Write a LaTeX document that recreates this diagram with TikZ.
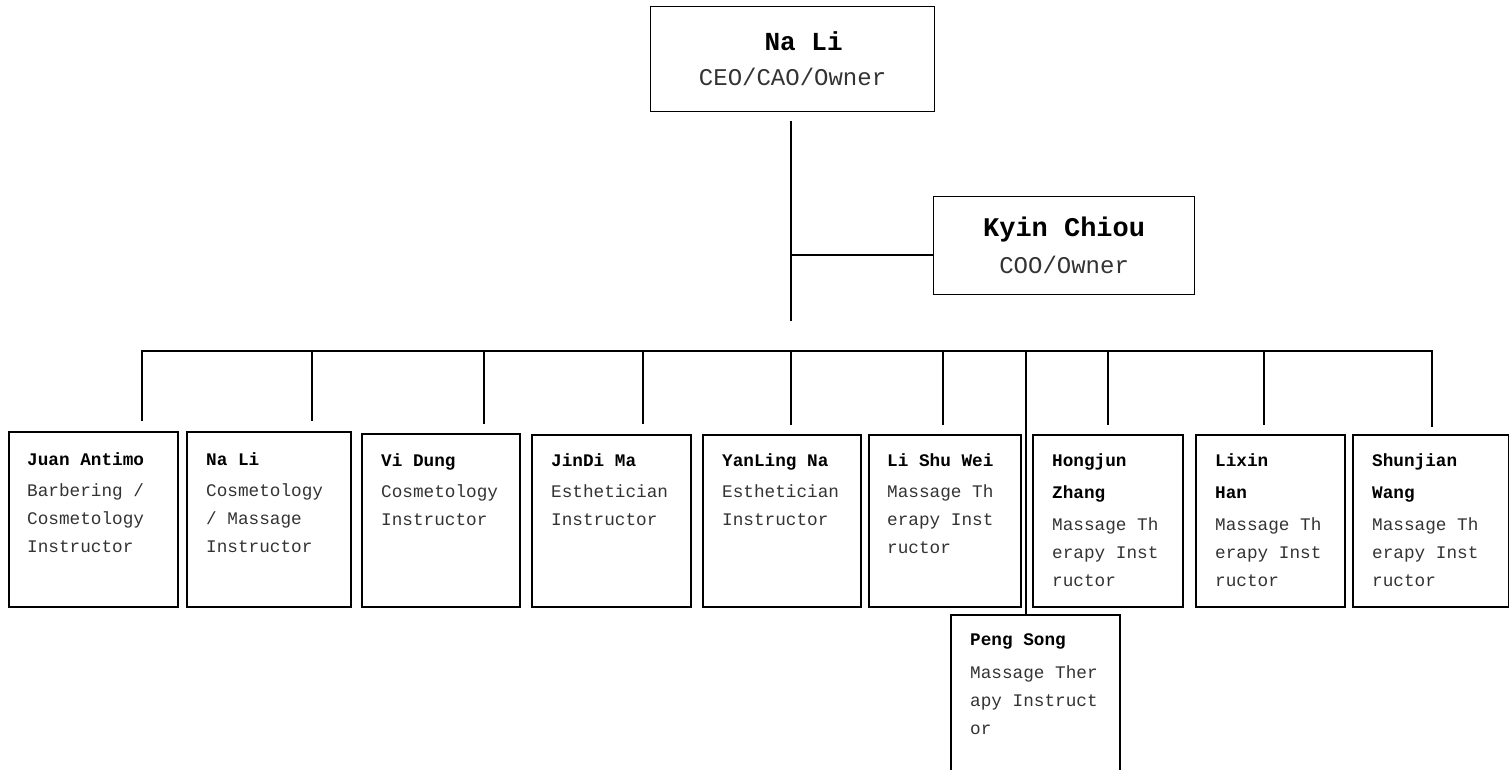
\documentclass[tikz,border=0pt]{standalone}
\usepackage{fontspec}
\setmainfont{Liberation Mono}
\usetikzlibrary{calc}
\newcommand\widesp{\spaceskip=0.6em\relax}
\tikzset{
  box/.style={draw, line width=1.9pt, anchor=north west, inner sep=0pt},
  topbox/.style={draw, line width=1.2pt, anchor=north west, inner sep=0pt, align=center},
  conn/.style={line width=2.9pt},
  tx/.style={anchor=base west, inner sep=0pt, text width=150pt, align=left,
             font=\fontsize{17.7}{28}\selectfont, execute at begin node=\widesp},
}
\begin{document}
\begin{tikzpicture}[x=1pt,y=-1pt]
\useasboundingbox (0,0) rectangle (1509,770);
\clip (0,0) rectangle (1509,770);
% top boxes
\node[topbox, minimum width=284pt, minimum height=105pt, text width=270pt,
      font=\fontsize{24}{35}\selectfont] (ceo) at (650,6)
  {\hspace*{22pt}{\fontsize{26}{35}\selectfont\widesp\bfseries Na Li}\\\color{black!80}CEO/CAO/Owner};
\node[topbox, minimum width=261pt, minimum height=98pt, text width=250pt,
      font=\fontsize{24}{37}\selectfont] (coo) at (933,196)
  {{\fontsize{27}{37}\selectfont\widesp\bfseries Kyin Chiou}\\\color{black!80}COO/Owner};
% spine
\coordinate (s1) at (791,121);
\coordinate (s2) at (791,321);
\coordinate (s3) at (791,255);
\draw[conn] (s1) -- (s2);
\draw[conn] (s3) -- (s3 -| coo.west);
% bottom boxes
\node[box, minimum width=169pt, minimum height=175pt] (b1) at (8,431) {};
\node[box, minimum width=164pt, minimum height=175pt] (b2) at (186,431) {};
\node[box, minimum width=158pt, minimum height=173pt] (b3) at (361,433) {};
\node[box, minimum width=159pt, minimum height=172pt] (b4) at (531,434) {};
\node[box, minimum width=158pt, minimum height=172pt] (b5) at (702,434) {};
\node[box, minimum width=152pt, minimum height=172pt] (b6) at (868,434) {};
\node[box, minimum width=150pt, minimum height=172pt] (b7) at (1032,434) {};
\node[box, minimum width=149pt, minimum height=172pt] (b8) at (1195,434) {};
\node[box, minimum width=156pt, minimum height=172pt] (b9) at (1352,434) {};
\node[box, minimum width=169pt, minimum height=200pt] (b10) at (950,614) {};
% texts
\node[tx] (t1) at (27,465) {\bfseries Juan Antimo\\[3pt]\mdseries\color{black!80}Barbering /\\Cosmetology\\Instructor};
\node[tx] (t2) at (206,465) {\bfseries Na Li\\[3pt]\mdseries\color{black!80}Cosmetology\\/ Massage\\Instructor};
\node[tx] (t3) at (381,466) {\bfseries Vi Dung\\[3pt]\mdseries\color{black!80}Cosmetology\\Instructor};
\node[tx] (t4) at (551,466) {\bfseries JinDi Ma\\[3pt]\mdseries\color{black!80}Esthetician\\Instructor};
\node[tx] (t5) at (722,466) {\bfseries YanLing Na\\[3pt]\mdseries\color{black!80}Esthetician\\Instructor};
\node[tx] (t6) at (887,466) {\bfseries Li Shu Wei\\[3pt]\mdseries\color{black!80}Massage Th\\erapy Inst\\ructor};
\node[tx] (t7) at (1052,466) {\bfseries Hongjun\\[4pt]Zhang\\[4pt]\mdseries\color{black!80}Massage Th\\erapy Inst\\ructor};
\node[tx] (t8) at (1215,466) {\bfseries Lixin\\[4pt]Han\\[4pt]\mdseries\color{black!80}Massage Th\\erapy Inst\\ructor};
\node[tx] (t9) at (1372,466) {\bfseries Shunjian\\[4pt]Wang\\[4pt]\mdseries\color{black!80}Massage Th\\erapy Inst\\ructor};
\node[tx] (t10) at (970,645) {\bfseries Peng Song\\[5pt]\mdseries\color{black!80}Massage Ther\\apy Instruct\\or};
% bus and drops
\foreach \x/\y [count=\i] in {142/421,312/421,484/424,643/424,791/425,943/425,1108/425,1264/425,1432/427}{
  \coordinate (d\i) at (\x,351);
  \coordinate (e\i) at (\x,\y);
}
\draw[conn] (e1) -- (d1) -- (d9) -- (e9);
\foreach \i in {2,...,8}{ \draw[conn] (d\i) -- (e\i); }
\coordinate (p1) at (1026,351);
\draw[conn] (p1) -- (p1 |- b10.north);
\end{tikzpicture}
\end{document}
